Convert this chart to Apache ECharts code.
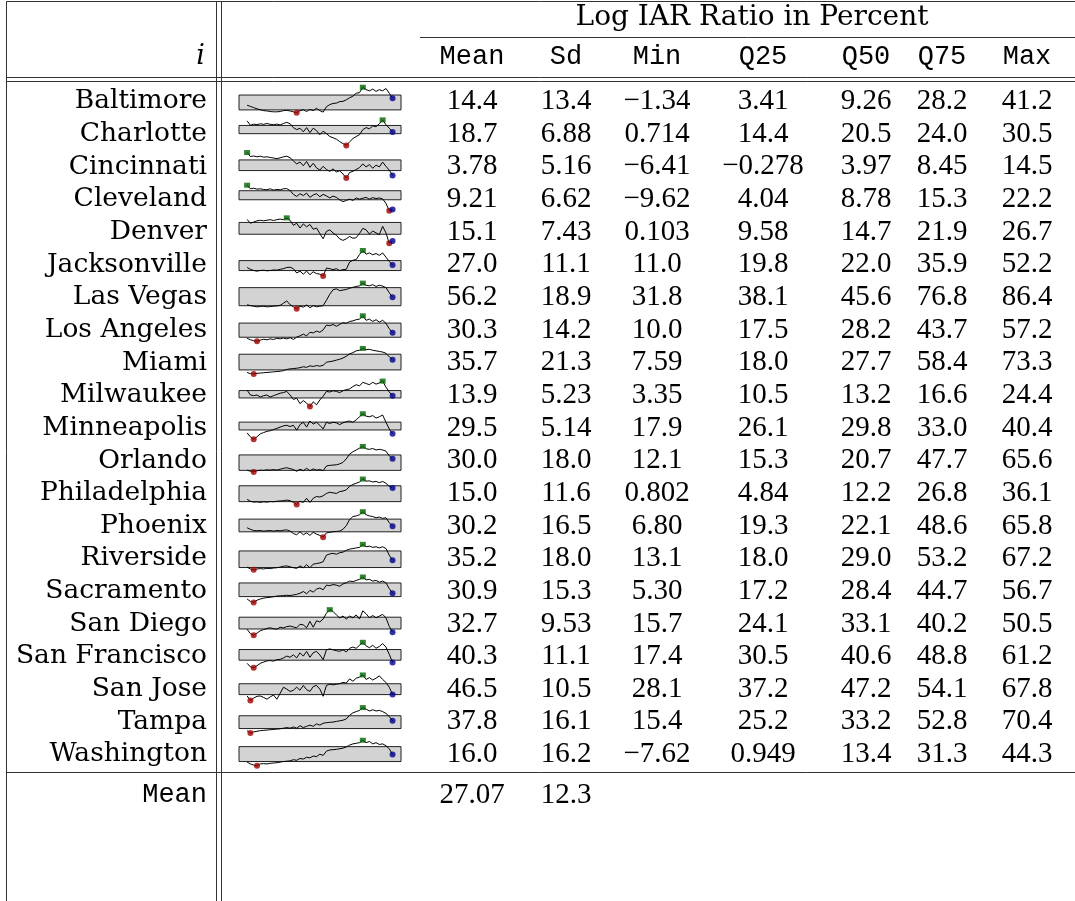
<!DOCTYPE html>
<html><head><meta charset="utf-8">
<script src="https://cdn.jsdelivr.net/npm/echarts@6/dist/echarts.min.js"></script>
<style>html,body{margin:0;padding:0;background:#fff}#c{width:1075px;height:901px}</style>
</head><body><div id="c"></div>
<script>
const title = 'Log IAR Ratio in Percent';
const rowHeader = 'i';
const colHeaders = ['Mean','Sd','Min','Q25','Q50','Q75','Max'];
const cities = ['Baltimore','Charlotte','Cincinnati','Cleveland','Denver','Jacksonville','Las Vegas','Los Angeles','Miami','Milwaukee','Minneapolis','Orlando','Philadelphia','Phoenix','Riverside','Sacramento','San Diego','San Francisco','San Jose','Tampa','Washington'];
const meanVals = ['14.4','18.7','3.78','9.21','15.1','27.0','56.2','30.3','35.7','13.9','29.5','30.0','15.0','30.2','35.2','30.9','32.7','40.3','46.5','37.8','16.0'];
const sdVals   = ['13.4','6.88','5.16','6.62','7.43','11.1','18.9','14.2','21.3','5.23','5.14','18.0','11.6','16.5','18.0','15.3','9.53','11.1','10.5','16.1','16.2'];
const minVals  = ['−1.34','0.714','−6.41','−9.62','0.103','11.0','31.8','10.0','7.59','3.35','17.9','12.1','0.802','6.80','13.1','5.30','15.7','17.4','28.1','15.4','−7.62'];
const q25Vals  = ['3.41','14.4','−0.278','4.04','9.58','19.8','38.1','17.5','18.0','10.5','26.1','15.3','4.84','19.3','18.0','17.2','24.1','30.5','37.2','25.2','0.949'];
const q50Vals  = ['9.26','20.5','3.97','8.78','14.7','22.0','45.6','28.2','27.7','13.2','29.8','20.7','12.2','22.1','29.0','28.4','33.1','40.6','47.2','33.2','13.4'];
const q75Vals  = ['28.2','24.0','8.45','15.3','21.9','35.9','76.8','43.7','58.4','16.6','33.0','47.7','26.8','48.6','53.2','44.7','40.2','48.8','54.1','52.8','31.3'];
const maxVals  = ['41.2','30.5','14.5','22.2','26.7','52.2','86.4','57.2','73.3','24.4','40.4','65.6','36.1','65.8','67.2','56.7','50.5','61.2','67.8','70.4','44.3'];
const footerLabel = 'Mean';
const footerVals = ['27.07','12.3'];

// sparkline series (Log IAR ratio, percent)
const baltimore = [11.2,9.2,7.2,5.2,3.7,2.2,1.7,0.7,0.2,0.2,0.7,2.2,2.7,1.7,0.2,-1.34,2.2,3.7,0.7,4.2,2.2,6.2,2.2,-0.3,8.7,12.2,14.2,14.7,17.2,17.7,20.2,23.7,26.2,31.2,32.2,41.2,37.2,35.2,38.2,34.2,37.2,35.2,39.2,31.2,22.7];
const charlotte = [29.4,24.2,25.6,24.9,26.0,25.3,26.3,25.3,24.9,25.6,24.6,26.3,27.7,26.0,21.5,19.1,20.8,16.6,21.5,15.6,20.8,18.0,13.2,17.3,14.5,11.1,9.7,8.0,5.2,2.8,0.714,4.9,8.7,11.1,13.2,19.1,21.5,20.1,23.5,22.5,26.0,30.5,24.9,20.8,16.3];
const cincinnati = [14.5,11.2,11.7,11.0,11.5,10.7,11.0,10.5,10.0,9.5,10.2,11.0,11.5,10.2,7.7,5.2,6.7,3.7,7.2,2.4,5.7,1.9,0.1,3.2,0.6,-0.9,1.1,-1.4,-0.4,-3.1,-6.41,-1.9,-0.9,0.6,2.2,5.2,2.7,4.7,1.6,4.2,2.7,6.7,3.2,0.1,-4.4];
const cleveland = [22.2,17.7,18.4,17.3,17.7,16.9,16.5,17.7,16.1,16.9,16.5,17.7,18.0,15.4,10.8,8.2,11.6,9.3,12.3,7.0,10.1,11.6,7.8,10.8,8.9,6.3,8.6,7.0,4.0,1.7,3.2,4.8,3.2,6.3,4.8,5.9,7.0,4.8,6.7,5.5,6.3,5.1,-0.5,-9.62,-8.1];
const denver = [25.1,21.1,22.3,23.6,24.2,23.6,24.2,24.8,23.9,24.8,25.4,24.8,26.7,24.2,18.9,21.1,16.1,20.4,17.3,19.8,14.8,16.1,10.4,4.8,12.6,14.2,11.0,8.5,4.8,3.2,4.8,7.3,5.4,6.0,10.4,15.7,14.2,9.8,12.9,11.0,9.2,17.9,11.0,0.103,2.6];
const jacksonville = [24.8,21.8,19.9,18.9,19.9,20.4,19.4,19.9,20.8,20.4,21.8,22.8,24.8,25.2,22.8,15.9,18.9,14.0,18.9,13.0,17.9,14.9,14.0,11.0,23.8,22.8,21.3,22.8,19.9,21.3,21.8,33.5,36.5,37.5,45.8,52.2,46.3,48.3,45.3,47.3,44.4,48.3,41.4,34.6,28.7];
const lasVegas = [40.2,38.3,37.0,35.7,36.3,37.0,35.7,36.3,37.0,37.6,38.9,43.4,48.5,40.2,35.7,31.8,37.0,35.0,39.5,33.8,38.3,35.7,37.0,38.3,49.8,62.6,72.3,74.2,70.3,71.6,72.9,75.5,77.4,79.3,80.6,86.4,81.9,80.6,83.2,79.3,81.9,80.0,76.8,65.9,56.2];
const losAngeles = [15.6,12.8,11.1,10.0,12.2,13.9,12.8,14.5,13.4,15.6,14.5,16.1,14.5,16.7,13.4,17.8,20.0,23.3,20.0,26.7,25.6,28.9,26.7,31.1,40.0,38.9,41.1,37.8,41.1,44.4,43.3,46.7,47.8,50.0,51.1,57.2,48.9,51.1,46.7,50.0,45.5,48.9,43.3,33.3,25.6];
const miami = [11.5,8.4,7.59,9.1,9.9,10.7,11.5,12.2,13.0,13.8,14.6,16.1,19.2,20.7,21.5,22.3,23.8,26.1,24.6,28.5,26.9,29.2,27.7,30.0,37.7,39.3,40.8,43.2,45.5,48.6,53.2,59.4,62.5,67.1,68.7,73.3,70.2,71.0,68.7,67.1,65.6,64.0,60.9,51.7,43.9];
const milwaukee = [16.9,12.9,12.4,12.9,11.3,12.4,12.9,11.3,12.4,13.4,14.4,14.9,15.9,12.9,9.3,10.3,5.8,8.3,6.3,3.35,7.3,4.8,8.8,11.9,15.9,15.4,16.4,15.9,14.9,16.4,17.4,17.9,19.9,21.4,20.4,23.4,22.4,21.4,23.4,21.9,22.9,24.4,19.4,15.4,12.4];
const minneapolis = [23.5,20.0,17.9,20.0,22.7,23.8,24.9,25.4,26.5,27.5,28.6,29.7,30.2,29.1,30.2,25.9,30.8,32.9,28.6,34.0,31.3,32.9,30.2,27.0,32.9,31.8,32.9,32.4,30.8,32.4,33.4,34.0,32.9,35.0,37.7,40.4,38.3,37.7,38.8,36.6,37.7,39.3,32.9,27.0,22.7];
const orlando = [15.8,13.4,12.1,14.6,15.8,15.2,16.5,15.8,17.1,15.8,17.7,19.6,20.8,19.0,17.1,13.4,17.7,14.6,19.6,14.6,18.3,15.8,17.1,14.6,24.5,25.8,26.4,27.0,28.9,32.0,39.5,49.4,54.4,58.1,61.9,65.6,60.6,59.4,61.2,58.1,59.4,58.1,55.6,45.7,39.5];
const philadelphia = [7.9,5.4,4.1,4.6,3.7,4.6,4.1,5.0,4.6,5.4,5.8,6.2,7.0,6.2,3.7,0.802,5.4,3.7,9.5,3.7,9.5,12.0,11.2,12.9,16.2,17.8,17.0,16.2,18.7,19.5,21.2,26.1,28.6,30.3,32.0,36.1,33.2,33.6,32.0,32.8,31.1,32.8,30.3,26.1,23.6];
const phoenix = [28.6,25.1,22.3,21.6,22.3,20.9,21.6,22.3,20.9,22.3,21.6,23.0,23.7,20.9,15.3,12.4,19.5,12.4,16.7,11.0,18.0,13.9,11.0,6.80,16.7,18.0,19.5,20.2,20.9,25.1,33.5,47.5,54.6,56.0,58.8,65.8,58.8,56.0,54.6,51.8,53.2,50.4,51.8,40.5,32.1];
const riverside = [18.9,15.0,13.1,15.0,15.7,15.0,16.3,15.7,17.0,17.6,18.9,20.8,21.4,19.5,17.6,16.3,21.4,17.6,24.0,17.6,25.2,26.5,27.8,30.3,44.3,46.8,48.1,46.2,49.4,50.7,54.5,57.0,58.3,59.6,60.8,67.2,62.1,63.4,60.8,62.1,59.6,62.1,58.3,44.3,33.5];
const sacramento = [12.3,7.6,5.30,10.0,12.3,14.1,15.2,15.8,17.0,18.2,18.7,19.3,19.9,19.3,20.5,21.7,24.0,27.5,22.8,29.8,26.3,32.2,34.5,31.0,40.3,39.2,41.5,40.3,38.0,42.7,45.0,48.5,47.4,49.7,52.0,56.7,50.9,52.0,48.5,49.7,46.2,48.5,45.0,33.3,24.0];
const sanDiego = [23.7,17.7,15.7,18.5,21.7,23.3,24.9,25.7,24.5,23.7,26.5,25.7,27.3,28.1,26.9,25.7,30.5,29.7,25.7,34.5,26.5,35.3,33.7,37.7,45.7,50.5,48.1,43.3,39.3,41.7,37.7,41.7,39.3,43.3,37.7,48.9,44.9,39.3,42.5,39.3,41.7,44.1,39.3,27.7,19.7];
const sanFrancisco = [25.1,19.0,17.4,21.0,25.1,27.2,29.3,29.8,28.8,31.3,31.8,34.4,37.5,35.5,39.6,34.4,43.2,37.5,45.7,35.5,43.2,45.7,39.6,31.3,48.3,49.9,48.3,46.8,45.7,48.3,44.7,50.9,53.0,50.9,56.1,61.2,55.0,51.9,56.1,50.9,54.0,59.1,53.0,40.6,26.7];
const sanJose = [35.1,28.1,31.8,34.6,35.1,32.8,30.0,33.7,36.5,30.0,39.3,48.7,45.8,42.1,44.0,48.7,44.0,51.5,44.9,42.1,49.6,51.5,45.8,34.6,51.5,53.3,52.4,53.3,54.3,56.1,55.2,61.7,58.0,62.7,64.5,67.8,60.8,63.6,59.9,62.7,66.4,60.8,56.1,48.7,37.4];
const tampa = [20.7,15.4,18.0,19.3,20.7,21.3,22.0,22.7,23.3,24.0,24.7,26.0,27.3,26.0,28.6,26.0,31.3,27.3,30.0,32.6,30.0,35.3,32.6,36.6,37.9,38.6,39.2,40.6,41.9,43.2,45.9,53.8,59.1,61.8,64.4,70.4,67.1,63.1,65.8,63.1,64.4,61.8,57.8,51.2,41.9];
const washington = [-0.2,-3.9,-6.4,-7.62,-3.9,-3.3,-3.9,-2.7,-2.1,-1.4,-0.2,1.0,1.7,2.3,4.7,3.5,7.2,6.0,9.7,8.5,12.2,10.9,15.9,13.4,22.1,24.5,25.1,25.8,27.0,28.2,30.7,34.4,36.9,38.1,39.4,44.3,39.4,41.8,36.9,39.4,35.7,36.9,33.2,27.0,15.3];

const sparkData = [baltimore,charlotte,cincinnati,cleveland,denver,jacksonville,lasVegas,losAngeles,miami,milwaukee,minneapolis,orlando,philadelphia,phoenix,riverside,sacramento,sanDiego,sanFrancisco,sanJose,tampa,washington];

// ---------- layout ----------
const W = 1075, H = 901;
const ROW0 = 100, ROWH = 32.65;
const TEXT_DY = 1.5;
const SP_LEFT = 239, SP_W = 162, SP_H = 25.5;
const NAME_X = 207;
const COL_X = [472, 566, 657, 763, 866, 942, 1027];
const NUM_FONT = '29px "Liberation Serif", serif';
const NAME_FONT = '26.5px "DejaVu Serif", serif';
const MONO_FONT = '27px "Liberation Mono", monospace';
const LINE_C = '#333';
const num = s => Number(String(s).replace('−', '-'));

const chart = echarts.init(document.getElementById('c'), null, {renderer: 'canvas'});
const grids = [], xAxes = [], yAxes = [], series = [], graphics = [];

function txt(t, x, y, font, align) {
  return {type: 'text', x: x, y: y, silent: true, z: 10,
    style: {text: t, font: font, fill: '#000', textAlign: align, align: align, textVerticalAlign: 'middle', verticalAlign: 'middle'}};
}
function ln(x1, y1, x2, y2, w) {
  return {type: 'line', silent: true, z: 8, shape: {x1: x1, y1: y1, x2: x2, y2: y2},
    style: {stroke: LINE_C, lineWidth: w || 1}};
}

sparkData.forEach((arr, r) => {
  const cy = ROW0 + r * ROWH;
  grids.push({left: SP_LEFT, top: cy - SP_H / 2, width: SP_W, height: SP_H, containLabel: false});
  const n = arr.length - 1;
  xAxes.push({gridIndex: r, type: 'value', min: -2.45, max: n + 2.55, show: false});
  const lo = Math.min(...arr), hi = Math.max(...arr);
  yAxes.push({gridIndex: r, type: 'value', min: lo, max: hi, show: false, scale: true});
  series.push({
    type: 'line', xAxisIndex: r, yAxisIndex: r, silent: true, animation: false,
    data: arr.map((v, i) => [i, v]), symbol: 'none', clip: false,
    lineStyle: {color: '#000', width: 1}, z: 3,
    markArea: {silent: true, z: 1,
      itemStyle: {color: '#d3d3d3', borderColor: '#222', borderWidth: 1},
      data: [[{yAxis: num(q25Vals[r])}, {yAxis: num(q75Vals[r])}]]}
  });
  const iMin = arr.indexOf(lo), iMax = arr.indexOf(hi);
  series.push({type: 'scatter', xAxisIndex: r, yAxisIndex: r, silent: true, animation: false, z: 5, clip: false,
    symbol: 'circle', symbolSize: 6, itemStyle: {color: '#a00000'}, data: [[iMin, lo]]});
  series.push({type: 'scatter', xAxisIndex: r, yAxisIndex: r, silent: true, animation: false, z: 5, clip: false,
    symbol: 'rect', symbolSize: [6, 5], itemStyle: {color: '#006400'}, data: [[iMax, hi]]});
  series.push({type: 'scatter', xAxisIndex: r, yAxisIndex: r, silent: true, animation: false, z: 6, clip: false,
    symbol: 'circle', symbolSize: 6, itemStyle: {color: '#00008b'}, data: [[n, arr[n]]]});

  // table text
  const ty = cy + TEXT_DY;
  graphics.push(txt(cities[r], NAME_X, ty, NAME_FONT, 'right'));
  [meanVals, sdVals, minVals, q25Vals, q50Vals, q75Vals, maxVals].forEach((col, c) => {
    graphics.push(txt(col[r], COL_X[c], ty, NUM_FONT, 'center'));
  });
});

// header
graphics.push(txt(title, 752, 18, '28px "DejaVu Serif", serif', 'center'));
graphics.push(txt(rowHeader, NAME_X - 2, 57, 'italic 27px "DejaVu Serif", serif', 'right'));
colHeaders.forEach((h, c) => graphics.push(txt(h, COL_X[c], 57, MONO_FONT, 'center')));
// footer
const footY = 795;
graphics.push(txt(footerLabel, NAME_X, footY, MONO_FONT, 'right'));
footerVals.forEach((v, c) => graphics.push(txt(v, COL_X[c], footY, NUM_FONT, 'center')));

// rules
graphics.push(ln(6.5, 1.5, W, 1.5));
graphics.push(ln(420, 37.5, W, 37.5));
graphics.push(ln(6.5, 77.5, W, 77.5));
graphics.push(ln(6.5, 81.5, W, 81.5));
graphics.push(ln(6.5, 772.5, W, 772.5));
graphics.push(ln(6.5, 1.5, 6.5, H));
graphics.push(ln(216.5, 1.5, 216.5, H));
graphics.push(ln(221.5, 1.5, 221.5, H));

chart.setOption({
  animation: false,
  backgroundColor: '#fff',
  grid: grids, xAxis: xAxes, yAxis: yAxes, series: series,
  graphic: {elements: graphics}
});
</script></body></html>
